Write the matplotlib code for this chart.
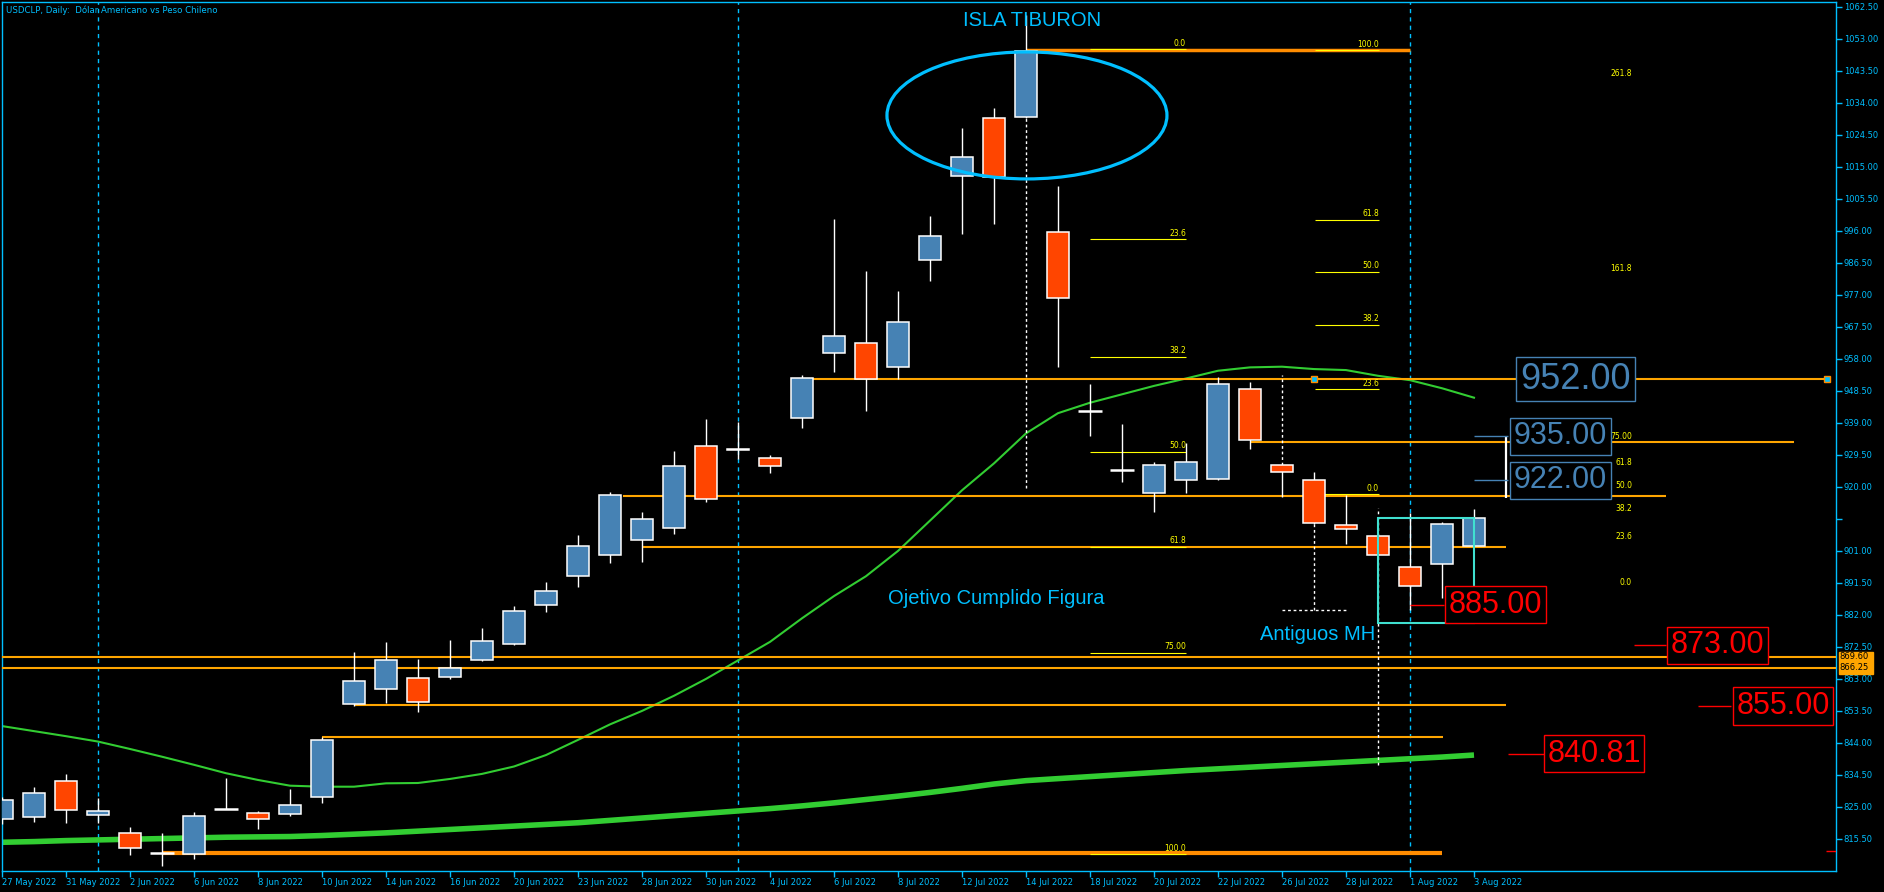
import matplotlib.pyplot as plt
from matplotlib.patches import Ellipse, Rectangle

# ---------------- data ----------------
dates = ["27 May 2022", "30 May 2022", "31 May 2022", "1 Jun 2022", "2 Jun 2022", "3 Jun 2022",
         "6 Jun 2022", "7 Jun 2022", "8 Jun 2022", "9 Jun 2022", "10 Jun 2022", "13 Jun 2022",
         "14 Jun 2022", "15 Jun 2022", "16 Jun 2022", "17 Jun 2022", "20 Jun 2022", "22 Jun 2022",
         "23 Jun 2022", "24 Jun 2022", "28 Jun 2022", "29 Jun 2022", "30 Jun 2022", "1 Jul 2022",
         "4 Jul 2022", "5 Jul 2022", "6 Jul 2022", "7 Jul 2022", "8 Jul 2022", "11 Jul 2022",
         "12 Jul 2022", "13 Jul 2022", "14 Jul 2022", "15 Jul 2022", "18 Jul 2022", "19 Jul 2022",
         "20 Jul 2022", "21 Jul 2022", "22 Jul 2022", "25 Jul 2022", "26 Jul 2022", "27 Jul 2022",
         "28 Jul 2022", "29 Jul 2022", "1 Aug 2022", "2 Aug 2022", "3 Aug 2022"]

opens = [821.5, 821.9, 832.6, 822.5, 817.2, 811.2, 810.9, 824.5, 823.1, 822.8, 827.9, 855.6,
         859.9, 863.2, 863.5, 868.5, 873.3, 884.9, 893.5, 899.7, 904.2, 907.7, 932.3, 931.4,
         928.5, 940.4, 959.7, 962.6, 955.5, 987.3, 1012.2, 1029.5, 1029.7, 995.6, 942.6, 925.1,
         918.1, 922.0, 922.3, 949.0, 926.4, 922.0, 908.6, 905.3, 896.1, 897.1, 902.5]
highs = [828.0, 830.9, 834.8, 827.5, 819.0, 817.3, 823.5, 833.6, 823.8, 830.4, 845.8, 871.0,
         874.0, 868.9, 874.6, 878.1, 884.6, 891.8, 905.7, 918.4, 912.5, 930.7, 940.2, 939.3,
         929.5, 953.2, 999.6, 984.1, 978.2, 1000.4, 1026.6, 1032.5, 1060.0, 1009.4, 950.6, 938.6,
         927.3, 933.0, 952.6, 951.1, 926.6, 924.3, 917.7, 905.5, 912.4, 909.5, 913.5]
lows = [820.0, 820.6, 820.3, 820.1, 810.8, 807.5, 809.6, 824.3, 818.5, 822.4, 826.1, 855.0,
        855.8, 853.3, 863.0, 868.3, 873.2, 883.0, 890.4, 897.5, 897.8, 906.1, 915.6, 928.2,
        924.1, 937.6, 954.2, 942.6, 952.1, 981.2, 995.2, 998.2, 1029.5, 955.7, 935.2, 921.6,
        912.7, 918.1, 922.0, 931.2, 916.9, 909.0, 903.2, 899.5, 883.5, 887.1, 902.4]
closes = [827.0, 829.0, 824.0, 823.7, 812.7, 811.2, 822.2, 824.5, 821.3, 825.5, 844.8, 862.3,
          868.5, 856.1, 866.2, 874.2, 883.1, 889.0, 902.4, 917.5, 910.4, 926.1, 916.3, 930.9,
          926.1, 952.3, 964.7, 952.1, 968.9, 994.4, 1017.9, 1012.0, 1049.5, 976.0, 942.6, 925.1,
          926.4, 927.3, 950.5, 933.8, 924.3, 909.2, 907.4, 899.7, 890.5, 908.9, 910.7]

ma_fast = [849.0, 847.5, 846.0, 844.4, 842.2, 839.9, 837.5, 835.0, 833.0, 831.3, 831.0, 831.0,
           832.0, 832.1, 833.3, 834.8, 837.0, 840.4, 844.9, 849.5, 853.5, 858.0, 863.0, 868.5,
           874.0, 881.0, 887.6, 893.5, 901.0, 910.0, 919.0, 927.0, 935.9, 941.9, 945.0, 947.5,
           950.0, 952.2, 954.5, 955.5, 955.7, 955.0, 954.7, 953.0, 951.7, 949.3, 946.5]
ma_slow = [814.5, 814.7, 815.0, 815.2, 815.4, 815.6, 815.8, 816.0, 816.1, 816.2, 816.5, 816.9,
           817.3, 817.8, 818.3, 818.8, 819.3, 819.8, 820.3, 821.0, 821.7, 822.4, 823.1, 823.8,
           824.5, 825.3, 826.2, 827.2, 828.2, 829.3, 830.5, 831.8, 832.8, 833.4, 834.0, 834.6,
           835.2, 835.8, 836.3, 836.8, 837.3, 837.8, 838.3, 838.8, 839.3, 839.8, 840.4]

price_ticks = [1062.50, 1053.00, 1043.50, 1034.00, 1024.50, 1015.00, 1005.50, 996.00, 986.50,
               977.00, 967.50, 958.00, 948.50, 939.00, 929.50, 920.00, 910.50, 901.00, 891.50,
               882.00, 872.50, 863.00, 853.50, 844.00, 834.50, 825.00, 815.50]

# horizontal support / resistance lines
hline_levels = [1049.8, 952.0, 933.3, 917.3, 902.1, 869.6, 866.25, 855.3, 845.7, 811.4]

# fibonacci tools
fib_a_names = ["0.0", "23.6", "38.2", "50.0", "61.8", "75.00", "100.0"]
fib_a_levels = [1050.0, 993.6, 958.7, 930.5, 902.3, 870.8, 811.0]
fib_b_names = ["0.0", "23.6", "38.2", "50.0", "61.8", "100.0"]
fib_b_levels = [917.8, 949.0, 968.2, 983.9, 999.4, 1049.6]
fib_c_names = ["261.8", "161.8", "100.0", "75.00", "61.8", "50.0", "38.2", "23.6", "0.0"]
fib_c_levels = [1041.1, 983.1, 948.0, 933.1, 925.5, 918.7, 911.9, 903.4, 889.9]

# boxed price labels
blue_labels = [952.00, 935.00, 922.00]
red_labels = [885.00, 873.00, 855.00, 840.81]
axis_marks = [869.60, 866.25]

# ---------------- layout ----------------
W, H = 1884, 892
CYAN = "#00BFFF"
ORANGE = "#FFA500"
DORANGE = "#FF8C00"
GREEN = "#32CD32"
BULL = "#4682B4"
BEAR = "#FF4500"
YEL = "#FFFF00"
XMAX = (1836 - 2) / 32


def bx(px):  # pixel column -> bar index
    return (px - 2) / 32


fig = plt.figure(figsize=(W / 100, H / 100), dpi=100, facecolor="black")
ax = fig.add_axes([2 / W, (H - 871) / H, (1836 - 2) / W, (871 - 2) / H])
ax.set_facecolor("black")
ax.set_xlim(0, XMAX)
ax.set_ylim(805.97, 1063.98)
for s in ax.spines.values():
    s.set_color(CYAN)
    s.set_linewidth(1)

ax.yaxis.tick_right()
ax.set_yticks(price_ticks)
ax.set_yticklabels(["" if v == 910.5 else "%.2f" % v for v in price_ticks])
ax.tick_params(axis="y", colors=CYAN, labelsize=6, length=4, width=1, pad=1.5)
xt = list(range(0, len(dates), 2))
ax.set_xticks(xt)
ax.set_xticklabels([dates[i] for i in xt], ha="left")
ax.tick_params(axis="x", colors=CYAN, labelsize=6, length=4, width=1, pad=1)

fig.text(6 / W, 1 - 10 / H, "USDCLP, Daily:  D\u00f3lar Americano vs Peso Chileno",
         fontsize=6.2, color=CYAN, va="center")

# month separators
for m in [3, 23, 44]:
    ax.axvline(m, color=CYAN, lw=1, ls=(0, (3, 3)), zorder=1)

# moving averages
n = len(dates)
ax.plot(range(n), ma_slow, color=GREEN, lw=4, zorder=2, solid_capstyle="butt")
ax.plot(range(n), ma_fast, color=GREEN, lw=1.5, zorder=2)

# horizontal lines
h_start = [32, 25, 39, 19.4, 20, 0, 0, 11, 10, 5]
h_end = [44, 57.03, 56.0, 52.0, 47.0, XMAX, XMAX, 47.0, 45.03, 45.0]
h_width = [2.5, 1.5, 1.5, 1.5, 1.5, 1.5, 1.5, 1.5, 1.5, 3]
for lv, a, b, w in zip(hline_levels, h_start, h_end, h_width):
    ax.hlines(lv, a, b, color=DORANGE if w > 2 else ORANGE, lw=w, zorder=3)
ax.plot([41, 57.03], [952.0, 952.0], "s", ms=5, mfc=CYAN, mec=DORANGE, mew=1,
        zorder=6, clip_on=False)
ax.hlines(811.9, 57.0, XMAX, color="red", lw=1, zorder=3)

# fibonacci tools
for names, levels, x0, x1, draw in [(fib_a_names, fib_a_levels, 34.0, 37.0, True),
                                    (fib_b_names, fib_b_levels, 41.03, 43.03, True),
                                    (fib_c_names, fib_c_levels, 49.9, 50.94, False)]:
    for nm, lv in zip(names, levels):
        if draw:
            ax.hlines(lv, x0, x1, color=YEL, lw=0.8, zorder=3)
        ax.annotate(nm, (x1, lv), xytext=(0, 1), textcoords="offset points",
                    ha="right", va="bottom", fontsize=5.5, color=YEL, zorder=3)

# white dashed drawing lines
dash = (0, (2, 2))
for xb, y0, y1 in [(32, 919.7, 1029.5), (40, 926.6, 953.2), (41, 883.4, 909.0),
                   (43, 905.5, 913.7), (43, 837.4, 899.5)]:
    ax.vlines(xb, y0, y1, color="white", lw=1, ls=dash, zorder=3)
ax.hlines(883.4, 40, 42, color="white", lw=1, ls=dash, zorder=3)

# candles
for i in range(n):
    o, h, l, c = opens[i], highs[i], lows[i], closes[i]
    ax.vlines(i, l, h, color="white", lw=1, zorder=4)
    if o == c:
        ax.hlines(o, i - 0.36, i + 0.36, color="white", lw=1.8, zorder=5)
    else:
        ax.bar(i, abs(c - o), bottom=min(o, c), width=0.7, color=BULL if c > o else BEAR,
               edgecolor="white", linewidth=1.1, zorder=5)

# annotations
ax.add_patch(Ellipse((32.03, 1030.3), 8.75, 37.7, fill=False, ec=CYAN, lw=2.3, zorder=7))
ax.add_patch(Rectangle((43.0, 879.6), 3.0, 31.3, fill=False, ec="#40E0D0", lw=1.5, zorder=7))
ax.vlines(bx(1506), 916.6, 935.0, color="white", lw=1.6, zorder=6)

txt = dict(family="Liberation Sans", color=CYAN, ha="center", va="center", zorder=8)
ax.text(32.2, 1058.4, "ISLA TIBURON", fontsize=14.5, **txt)
ax.text(31.08, 886.9, "Ojetivo Cumplido Figura", fontsize=14.5, **txt)
ax.text(41.1, 876.2, "Antiguos MH", fontsize=14.5, **txt)

blue_pos = [49.16, 48.7, 48.7]
blue_lead = [None, bx(1474), bx(1474)]
blue_size = [26, 22, 22]
for v, xc, ld, fs in zip(blue_labels, blue_pos, blue_lead, blue_size):
    ax.text(xc, v, "%.2f" % v, fontsize=fs, family="Liberation Sans", color=BULL,
            ha="center", va="center", zorder=8,
            bbox=dict(boxstyle="square,pad=0.12", fc="black", ec=BULL, lw=1))
    if ld is not None:
        ax.hlines(v, ld, bx(1508), color=BULL, lw=1, zorder=6)

red_pos = [46.67, 53.6, 55.66, 49.75]
red_lead = [bx(1410), bx(1634), bx(1698), bx(1508)]
red_box_left = [bx(1444), bx(1666), bx(1731), bx(1546)]
for v, xc, ld, bl in zip(red_labels, red_pos, red_lead, red_box_left):
    ax.text(xc, v, "%.2f" % v, fontsize=22, family="Liberation Sans", color="red",
            ha="center", va="center", zorder=8,
            bbox=dict(boxstyle="square,pad=0.12", fc="black", ec="red", lw=1))
    ax.hlines(v, ld, bl, color="red", lw=1, zorder=6)

# price markers on the axis
ax.add_patch(Rectangle((1839 / W, (H - 674) / H), 34 / W, 22 / H,
                       transform=fig.transFigure, color=ORANGE, zorder=9, clip_on=False))
for v in axis_marks:
    ax.text(XMAX + 0.1, v, "%.2f" % v, fontsize=6, color="black", ha="left", va="center",
            clip_on=False, zorder=10)

fig.savefig("out.png", dpi=100, facecolor="black")
